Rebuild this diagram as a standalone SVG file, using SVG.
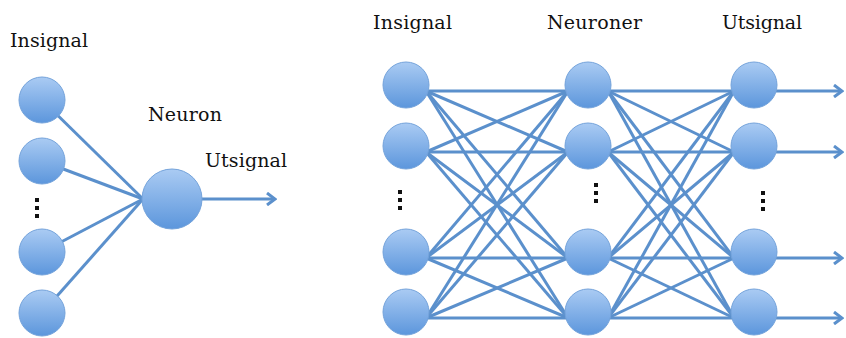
<svg xmlns="http://www.w3.org/2000/svg" width="846" height="338" viewBox="0 0 846 338">
<style>
.n{fill:url(#g);stroke:#74a3db;stroke-width:1}
.e{stroke:#5b90cc;stroke-width:3;fill:none}
.t{font-family:"DejaVu Serif","Liberation Serif",serif;font-size:19px;fill:#111}
.d{fill:#111}
</style>
<defs>
<linearGradient id="g" x1="0" y1="0" x2="0" y2="1">
<stop offset="0" stop-color="#aacbf3"/>
<stop offset="1" stop-color="#5c96dc"/>
</linearGradient>
<marker id="a" markerWidth="12" markerHeight="14" refX="10" refY="7" orient="auto" markerUnits="userSpaceOnUse">
<path d="M2,1 L10,7 L2,13" fill="none" stroke="#5b90cc" stroke-width="3"/>
</marker>
</defs>
<g id="connectors">
<line class="e" x1="42" y1="100" x2="143" y2="199"/>
<line class="e" x1="42" y1="161" x2="143" y2="199"/>
<line class="e" x1="42" y1="252" x2="143" y2="199"/>
<line class="e" x1="42" y1="313" x2="143" y2="199"/>
<line class="e" x1="200" y1="199" x2="275" y2="199" marker-end="url(#a)"/>
<g id="in-hidden">
<line class="e" x1="426" y1="91" x2="568" y2="91"/>
<line class="e" x1="426" y1="91" x2="568" y2="152"/>
<line class="e" x1="426" y1="91" x2="568" y2="258"/>
<line class="e" x1="426" y1="91" x2="568" y2="318"/>
<line class="e" x1="426" y1="152" x2="568" y2="91"/>
<line class="e" x1="426" y1="152" x2="568" y2="152"/>
<line class="e" x1="426" y1="152" x2="568" y2="258"/>
<line class="e" x1="426" y1="152" x2="568" y2="318"/>
<line class="e" x1="426" y1="258" x2="568" y2="91"/>
<line class="e" x1="426" y1="258" x2="568" y2="152"/>
<line class="e" x1="426" y1="258" x2="568" y2="258"/>
<line class="e" x1="426" y1="258" x2="568" y2="318"/>
<line class="e" x1="426" y1="318" x2="568" y2="91"/>
<line class="e" x1="426" y1="318" x2="568" y2="152"/>
<line class="e" x1="426" y1="318" x2="568" y2="258"/>
<line class="e" x1="426" y1="318" x2="568" y2="318"/>
</g>
<g id="hidden-out">
<line class="e" x1="608" y1="91" x2="734" y2="91"/>
<line class="e" x1="608" y1="91" x2="734" y2="152"/>
<line class="e" x1="608" y1="91" x2="734" y2="258"/>
<line class="e" x1="608" y1="91" x2="734" y2="318"/>
<line class="e" x1="608" y1="152" x2="734" y2="91"/>
<line class="e" x1="608" y1="152" x2="734" y2="152"/>
<line class="e" x1="608" y1="152" x2="734" y2="258"/>
<line class="e" x1="608" y1="152" x2="734" y2="318"/>
<line class="e" x1="608" y1="258" x2="734" y2="91"/>
<line class="e" x1="608" y1="258" x2="734" y2="152"/>
<line class="e" x1="608" y1="258" x2="734" y2="258"/>
<line class="e" x1="608" y1="258" x2="734" y2="318"/>
<line class="e" x1="608" y1="318" x2="734" y2="91"/>
<line class="e" x1="608" y1="318" x2="734" y2="152"/>
<line class="e" x1="608" y1="318" x2="734" y2="258"/>
<line class="e" x1="608" y1="318" x2="734" y2="318"/>
</g>
<line class="e" x1="776" y1="91" x2="842" y2="91" marker-end="url(#a)"/>
<line class="e" x1="776" y1="152" x2="842" y2="152" marker-end="url(#a)"/>
<line class="e" x1="776" y1="258" x2="842" y2="258" marker-end="url(#a)"/>
<line class="e" x1="776" y1="318" x2="842" y2="318" marker-end="url(#a)"/>
</g>
<g id="single-in1"><circle class="n" cx="42" cy="100" r="23"/></g>
<g id="single-in2"><circle class="n" cx="42" cy="161" r="23"/></g>
<g id="single-in3"><circle class="n" cx="42" cy="252" r="23"/></g>
<g id="single-in4"><circle class="n" cx="42" cy="313" r="23"/></g>
<g id="single-neuron"><circle class="n" cx="172" cy="199" r="30"/></g>
<g id="net-in1"><circle class="n" cx="406" cy="85" r="23"/></g>
<g id="net-in2"><circle class="n" cx="406" cy="146" r="23"/></g>
<g id="net-in3"><circle class="n" cx="406" cy="252" r="23"/></g>
<g id="net-in4"><circle class="n" cx="406" cy="312" r="23"/></g>
<g id="net-h1"><circle class="n" cx="588" cy="85" r="23"/></g>
<g id="net-h2"><circle class="n" cx="588" cy="146" r="23"/></g>
<g id="net-h3"><circle class="n" cx="588" cy="252" r="23"/></g>
<g id="net-h4"><circle class="n" cx="588" cy="312" r="23"/></g>
<g id="net-o1"><circle class="n" cx="754" cy="85" r="23"/></g>
<g id="net-o2"><circle class="n" cx="754" cy="146" r="23"/></g>
<g id="net-o3"><circle class="n" cx="754" cy="252" r="23"/></g>
<g id="net-o4"><circle class="n" cx="754" cy="312" r="23"/></g>
<g id="dots">
<rect class="d" x="35" y="198" width="4" height="4"/>
<rect class="d" x="35" y="206" width="4" height="4"/>
<rect class="d" x="35" y="214" width="4" height="4"/>
<rect class="d" x="398" y="190" width="4" height="4"/>
<rect class="d" x="398" y="198" width="4" height="4"/>
<rect class="d" x="398" y="206" width="4" height="4"/>
<rect class="d" x="594" y="183" width="4" height="4"/>
<rect class="d" x="594" y="191" width="4" height="4"/>
<rect class="d" x="594" y="199" width="4" height="4"/>
<rect class="d" x="761" y="191" width="4" height="4"/>
<rect class="d" x="761" y="199" width="4" height="4"/>
<rect class="d" x="761" y="207" width="4" height="4"/>
</g>
<g id="labels">
<text class="t" x="10" y="47" textLength="78">Insignal</text>
<text class="t" x="148" y="121" textLength="74">Neuron</text>
<text class="t" x="205" y="167" textLength="82">Utsignal</text>
<text class="t" x="373" y="29" textLength="79">Insignal</text>
<text class="t" x="547" y="29" textLength="95">Neuroner</text>
<text class="t" x="722" y="29" textLength="80">Utsignal</text>
</g>
</svg>
